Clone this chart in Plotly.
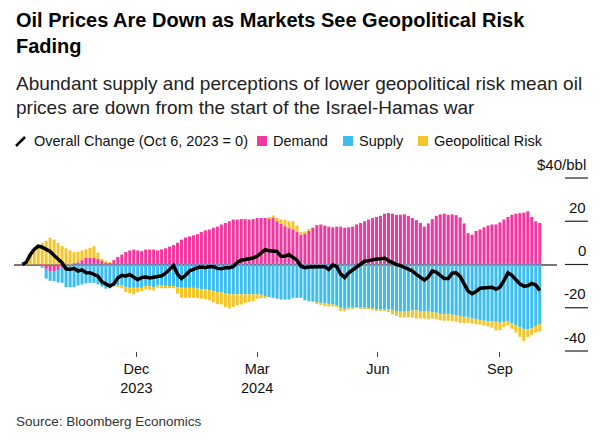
import pandas as pd
import plotly.graph_objects as go

# ---------------- data ----------------
dates = pd.date_range("2023-10-06", periods=131, freq="3D")

demand = [0, 0, 0, 0, 0, -0.5, -2, -3, -3, -2.5,
          -1.5, -0.5, 0, 0.5, 1, 2, 3, 3, 3, 2.5,
          2, 1, 0.8, 2, 3.5, 4.6, 5.8, 6.5, 6.9, 6.5,
          6.2, 6.9, 6.9, 6.9, 6.5, 7, 7.5, 8.3, 9, 10,
          11.5, 12.5, 13, 13.5, 14, 15, 15.8, 16.2, 17, 17.5,
          18.5, 19.2, 20, 20.8, 20.8, 21, 21, 20.8, 21, 21.5,
          21.5, 21.5, 21.5, 21.5, 20, 18.8, 17.7, 16.8, 16.2, 15,
          13.8, 14.5, 15.5, 17, 18.2, 18.5, 18, 17.5, 17.2, 17.5,
          17.5, 17, 17.2, 17.5, 18.5, 19.2, 20, 20.8, 21.5, 22,
          22.5, 23.5, 23.8, 23.5, 23, 23, 23.2, 22.5, 21.5, 20.5,
          19.2, 17.5, 19, 21, 22.5, 23.2, 23.5, 23, 23.2, 22.8,
          21.8, 19, 14.5, 13.8, 15.5, 16.2, 17.2, 18, 18.5, 18.5,
          19.5, 20.8, 22, 23, 23.5, 23.8, 24, 24.6, 22, 20,
          19.2]

supply = [0, 0, 0, 0, 0, -1, -4.5, -4.5, -4.7, -5.8,
          -7, -10, -10.5, -10.5, -9.7, -9.2, -8.7, -8.5, -8.5, -9.2,
          -10.2, -11.2, -11, -10, -9.5, -9.5, -10.5, -10.8, -10.8, -10.8,
          -10.8, -10, -10, -10.5, -9.5, -9.5, -10, -10, -10, -10.5,
          -10.8, -10.8, -10.8, -10.8, -11.2, -11.5, -11.5, -11.8, -12.3, -12.8,
          -13, -13.5, -13.8, -13.8, -13.8, -13.8, -13.8, -13.8, -13.8, -13.8,
          -14, -14.6, -15, -15.4, -15.8, -16.2, -16.2, -16.2, -15.4, -15.4,
          -15.4, -16.5, -17, -17.2, -17.5, -17.7, -18, -18.2, -18.5, -18.8,
          -20, -20.5, -20, -19.8, -19.8, -20, -20, -20.2, -20.5, -20.8,
          -20.8, -20.8, -20.8, -21, -21.5, -21.5, -21.5, -21.5, -21.2, -21.2,
          -21.5, -21.5, -21.8, -22, -22.3, -22.8, -23, -23, -23.2, -23.5,
          -23.8, -24.2, -24.5, -25, -25.4, -25.6, -26, -26.2, -26.2, -26.5,
          -26.9, -26.5, -26.2, -27.2, -28, -29, -29.8, -30, -29.5, -28.5,
          -27.5]

geo_risk = [0, 1.5, 4, 6, 8, 10, 11, 12.3, 11.5, 10,
            8.5, 7.5, 6.5, 5.2, 5, 4.5, 4, 4.7, 5.5, 3,
            0.7, 0.7, 0.3, 0, -0.8, -1.5, -2.2, -2.5, -3, -2,
            -1.5, -1.5, -1.5, -1.5, -1.2, -1.5, -1, -0.8, -1, -3,
            -4.6, -4.6, -4.6, -4.6, -4.4, -4.3, -4.5, -4.8, -5.2, -5.5,
            -5.5, -6.2, -6.5, -5.8, -5, -4.7, -4, -3.5, -3.2, -2,
            -1.5, -0.5, 0.3, 1.2, 1.5, 2, 3, 3.2, 3.8, 3,
            1.2, 0.8, 0.5, 0, -0.5, -1, -1.2, -1.2, -1, -0.8,
            -1.5, -1, -0.8, -0.5, -0.3, -0.3, -0.2, -0.2, -0.3, -0.3,
            -0.5, -0.5, -1.2, -2, -2.3, -3, -3, -3, -3.3, -3.8,
            -3.5, -3.5, -3.5, -3, -3, -3, -3, -3, -3, -3,
            -3.2, -3, -2.5, -2.3, -2.3, -2.2, -2.3, -2.5, -3, -4,
            -3.5, -2.5, -2, -2.5, -3.5, -4.5, -5.5, -3.5, -3, -3,
            -3.5]

overall = [0, 1, 4.5, 7, 8.5, 8, 7, 6, 4.2, 2.5,
           0.8, -2, -2.3, -1.8, -3, -2.5, -3.8, -3.8, -4.6, -5.4,
           -8, -9.2, -10, -9, -6.2, -5, -5.4, -4.6, -6, -7,
           -6, -5.8, -6.2, -6, -5.8, -5.2, -4, -2.5, -0.5, -4.5,
           -6.5, -5, -3, -2.3, -1.5, -1.2, -1.5, -1, -1, -1.8,
           -2, -1.5, -1.5, -1, 1, 2, 2.3, 2.5, 3, 3.8,
           5.5, 6.9, 6.4, 6.2, 6, 3.8, 3.8, 4.6, 3.5, 2,
           -0.8, -1.5, -1.2, -1, -0.8, -1, -1, -2.3, -0.2, -1,
           -4.5, -6, -3.8, -2.5, -1.2, 0, 1.5, 1.8, 2.3, 2.5,
           2.6, 3, 1.8, 0.8, 0, -0.5, -1.2, -2.3, -3, -4.6,
           -6, -7.2, -5.8, -3, -3.5, -5, -6.5, -6.5, -4, -3.8,
           -5.5, -9, -12.3, -13.5, -12.5, -11, -10.8, -10.5, -10.5, -11.5,
           -10.5, -7.5, -3.8, -5, -7, -9, -10, -9.8, -8.8, -9.5,
           -12]

tick_dates = ["2023-12-31", "2024-03-31", "2024-06-30", "2024-09-30"]
tick_labels = ["Dec<br>2023", "Mar<br>2024", "Jun", "Sep"]
y_ticks = [40, 20, 0, -20, -40]
y_labels = ["$40/bbl", "20", "0", "-20", "-40"]
Y_MIN, Y_MAX = -40, 40

series_names = ["Overall Change (Oct 6, 2023 = 0)", "Demand", "Supply", "Geopolitical Risk"]

# ---------------- style ----------------
W, H = 605, 442
ML, MR, MT, MB = 14, 48, 178, 91
PW, PH = W - ML - MR, H - MT - MB
FONT = "Liberation Sans, Arial, Helvetica, sans-serif"
PINK, CYAN, YELLOW = "#f0389e", "#3bbdf0", "#f5c62a"


def px(x):
    return (x - ML) / PW


def py(y):
    return (H - MB - y) / PH


def pv(v):
    return (v - Y_MIN) / (Y_MAX - Y_MIN)


fig = go.Figure()
bar_w = 2.3 * 86400 * 1000
for name, vals, col in [(series_names[1], demand, PINK),
                        (series_names[2], supply, CYAN),
                        (series_names[3], geo_risk, YELLOW)]:
    fig.add_bar(x=dates, y=vals, name=name, width=bar_w,
                marker=dict(color=col, line=dict(width=0)))
fig.add_scatter(x=dates, y=overall, mode="lines", name=series_names[0],
                line=dict(color="black", width=3.5))

annotations = []
shapes = []

# titles
annotations.append(dict(text="<b>Oil Prices Are Down as Markets See Geopolitical Risk</b>",
                        x=px(14), y=py(20), xanchor="left", yanchor="middle",
                        font=dict(size=20, color="#000")))
annotations.append(dict(text="<b>Fading</b>", x=px(14), y=py(46), xanchor="left",
                        yanchor="middle", font=dict(size=20, color="#000")))
annotations.append(dict(text="Abundant supply and perceptions of lower geopolitical risk mean oil",
                        x=px(14), y=py(83), xanchor="left", yanchor="middle",
                        font=dict(size=19, color="#222")))
annotations.append(dict(text="prices are down from the start of the Israel-Hamas war",
                        x=px(14), y=py(107), xanchor="left", yanchor="middle",
                        font=dict(size=19, color="#222")))
annotations.append(dict(text="Source: Bloomberg Economics", x=px(14), y=py(421),
                        xanchor="left", yanchor="middle",
                        font=dict(size=13.5, color="#333")))

# legend
LY = 141
shapes.append(dict(type="line", xref="paper", yref="paper", x0=px(16), y0=py(146),
                   x1=px(25), y1=py(137), line=dict(color="black", width=2.5)))
annotations.append(dict(text=series_names[0], x=px(32), y=py(LY), xanchor="left",
                        yanchor="middle", font=dict(size=14.5, color="#111")))
for (x0, col, label) in [(257, PINK, series_names[1]), (343, CYAN, series_names[2]),
                         (418, YELLOW, series_names[3])]:
    shapes.append(dict(type="rect", xref="paper", yref="paper", x0=px(x0), x1=px(x0 + 10),
                       y0=py(LY + 5), y1=py(LY - 5), fillcolor=col, line=dict(width=0)))
    annotations.append(dict(text=label, x=px(x0 + 14), y=py(LY), xanchor="left",
                            yanchor="middle", font=dict(size=14.5, color="#111")))

# right-hand value axis (ticks drawn at the y-axis values)
for v, lab in zip(y_ticks, y_labels):
    shapes.append(dict(type="line", xref="paper", yref="paper", x0=px(565), x1=px(588),
                       y0=pv(v), y1=pv(v), line=dict(color="#222", width=1.2)))
    annotations.append(dict(text=lab, x=px(588), y=pv(v),
                            xanchor="right", yanchor="middle", yshift=14,
                            font=dict(size=15, color="#111")))

for a in annotations:
    a.setdefault("xref", "paper")
    a.setdefault("yref", "paper")
    a["showarrow"] = False

fig.update_layout(
    width=W, height=H,
    margin=dict(l=ML, r=MR, t=MT, b=MB, pad=0),
    paper_bgcolor="white", plot_bgcolor="white",
    barmode="relative", showlegend=False,
    font=dict(family=FONT, color="#111"),
    annotations=annotations, shapes=shapes,
    xaxis=dict(type="date", range=["2023-09-29 18:00", "2024-11-12"],
               tickvals=tick_dates, ticktext=tick_labels,
               ticks="outside", ticklen=5, tickcolor="#444", tickwidth=1,
               showgrid=False, showline=False, zeroline=False,
               tickfont=dict(size=14.5, color="#111")),
    yaxis=dict(range=[Y_MIN, Y_MAX], showticklabels=False, showgrid=False,
               zeroline=True, zerolinecolor="#777", zerolinewidth=1.5, ticks=""),
)

fig.write_html("out.html",
               config={"displayModeBar": False},
               post_script="document.body.style.margin='0';document.body.style.overflow='hidden';")
